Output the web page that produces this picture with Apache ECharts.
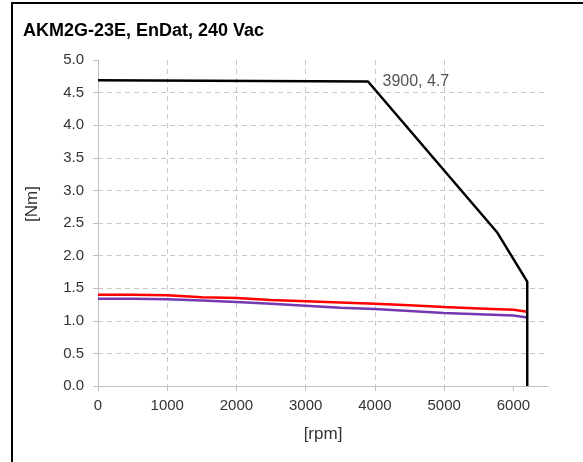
<!DOCTYPE html>
<html>
<head>
<meta charset="utf-8">
<script src="https://cdn.jsdelivr.net/npm/echarts@6/dist/echarts.min.js"></script>
<style>html,body{margin:0;padding:0;background:#fff}#c{width:583px;height:462px}</style>
</head>
<body>
<div id="c"></div>
<script>
var titleText = 'AKM2G-23E, EnDat, 240 Vac';
var xTicks = [0, 1000, 2000, 3000, 4000, 5000, 6000];
var yTicks = [0, 0.5, 1, 1.5, 2, 2.5, 3, 3.5, 4, 4.5, 5];
var peakRpm = [0, 3900, 5770, 6200, 6200];
var peakTorque = [4.69, 4.67, 2.35, 1.60, 0];
var contRpm = [0, 500, 1000, 1500, 2000, 2500, 3000, 3500, 4000, 4500, 5000, 5500, 6000, 6200];
var redTorque = [1.40, 1.40, 1.39, 1.36, 1.35, 1.32, 1.30, 1.28, 1.26, 1.24, 1.21, 1.19, 1.17, 1.14];
var purpleTorque = [1.34, 1.34, 1.33, 1.31, 1.29, 1.26, 1.23, 1.20, 1.18, 1.15, 1.12, 1.10, 1.08, 1.05];
var annotation = { rpm: 3900, torque: 4.67, text: '3900, 4.7' };

function pairs(xs, ys) { return xs.map(function (x, i) { return [x, ys[i]]; }); }

var chart = echarts.init(document.getElementById('c'), null, { renderer: 'canvas' });
var font = 'Arial, "Liberation Sans", sans-serif';
chart.setOption({
  animation: false,
  backgroundColor: '#fff',
  textStyle: { fontFamily: font },
  title: {
    text: titleText, left: 23, top: 22, padding: 0,
    textStyle: { fontFamily: font, fontSize: 18, fontWeight: 'bold', color: '#000' }
  },
  graphic: [
    { type: 'rect', shape: { x: 12, y: 3, width: 700, height: 600 }, style: { fill: null, stroke: '#000', lineWidth: 2 }, silent: true },
    { type: 'text', x: 32, y: 204, rotation: Math.PI / 2,
      style: { text: '[Nm]', font: '17px ' + font, fill: '#333', align: 'center', verticalAlign: 'middle' } }
  ],
  grid: { left: 98, top: 60, right: 35, bottom: 76, containLabel: false },
  xAxis: {
    type: 'value', min: 0, max: 6500, interval: 1000,
    name: '[rpm]', nameLocation: 'middle', nameGap: 40,
    nameTextStyle: { fontFamily: font, fontSize: 17, color: '#333' },
    axisLine: { show: true, lineStyle: { color: '#c0c0c0', width: 1 } },
    axisTick: { show: true, length: 5, lineStyle: { color: '#c0c0c0' }, customValues: xTicks },
    axisLabel: { fontFamily: font, fontSize: 15, color: '#333', margin: 12, customValues: xTicks,
      formatter: function (v) { return String(v); } },
    splitLine: { show: true, showMinLine: false, showMaxLine: false, lineStyle: { color: '#c8c8c8', type: [5, 4] } }
  },
  yAxis: {
    type: 'value', min: 0, max: 5, interval: 0.5,
    axisLine: { show: true, lineStyle: { color: '#c0c0c0', width: 1 } },
    axisTick: { show: true, length: 5, lineStyle: { color: '#c0c0c0' } },
    axisLabel: { fontFamily: font, fontSize: 15, color: '#333', margin: 14,
      formatter: function (v) { return v.toFixed(1); } },
    splitLine: { show: true, showMinLine: false, showMaxLine: false, lineStyle: { color: '#c8c8c8', type: [5, 4] } }
  },
  series: [
    { type: 'line', data: pairs(contRpm, purpleTorque), showSymbol: false, symbol: 'none',
      lineStyle: { color: '#7438b0', width: 2.5 }, z: 2 },
    { type: 'line', data: pairs(contRpm, redTorque), showSymbol: false, symbol: 'none',
      lineStyle: { color: '#ff0000', width: 2.5 }, z: 3 },
    { type: 'line', data: pairs(peakRpm, peakTorque), showSymbol: false, symbol: 'none',
      lineStyle: { color: '#000', width: 2.5 }, z: 4,
      markPoint: {
        symbol: 'circle', symbolSize: 1, itemStyle: { color: 'rgba(0,0,0,0)' },
        label: { show: true, position: 'right', distance: 14, color: '#555', fontSize: 16, fontFamily: font,
          formatter: function () { return annotation.text; } },
        data: [{ coord: [annotation.rpm, annotation.torque] }]
      }
    }
  ]
});
</script>
</body>
</html>
